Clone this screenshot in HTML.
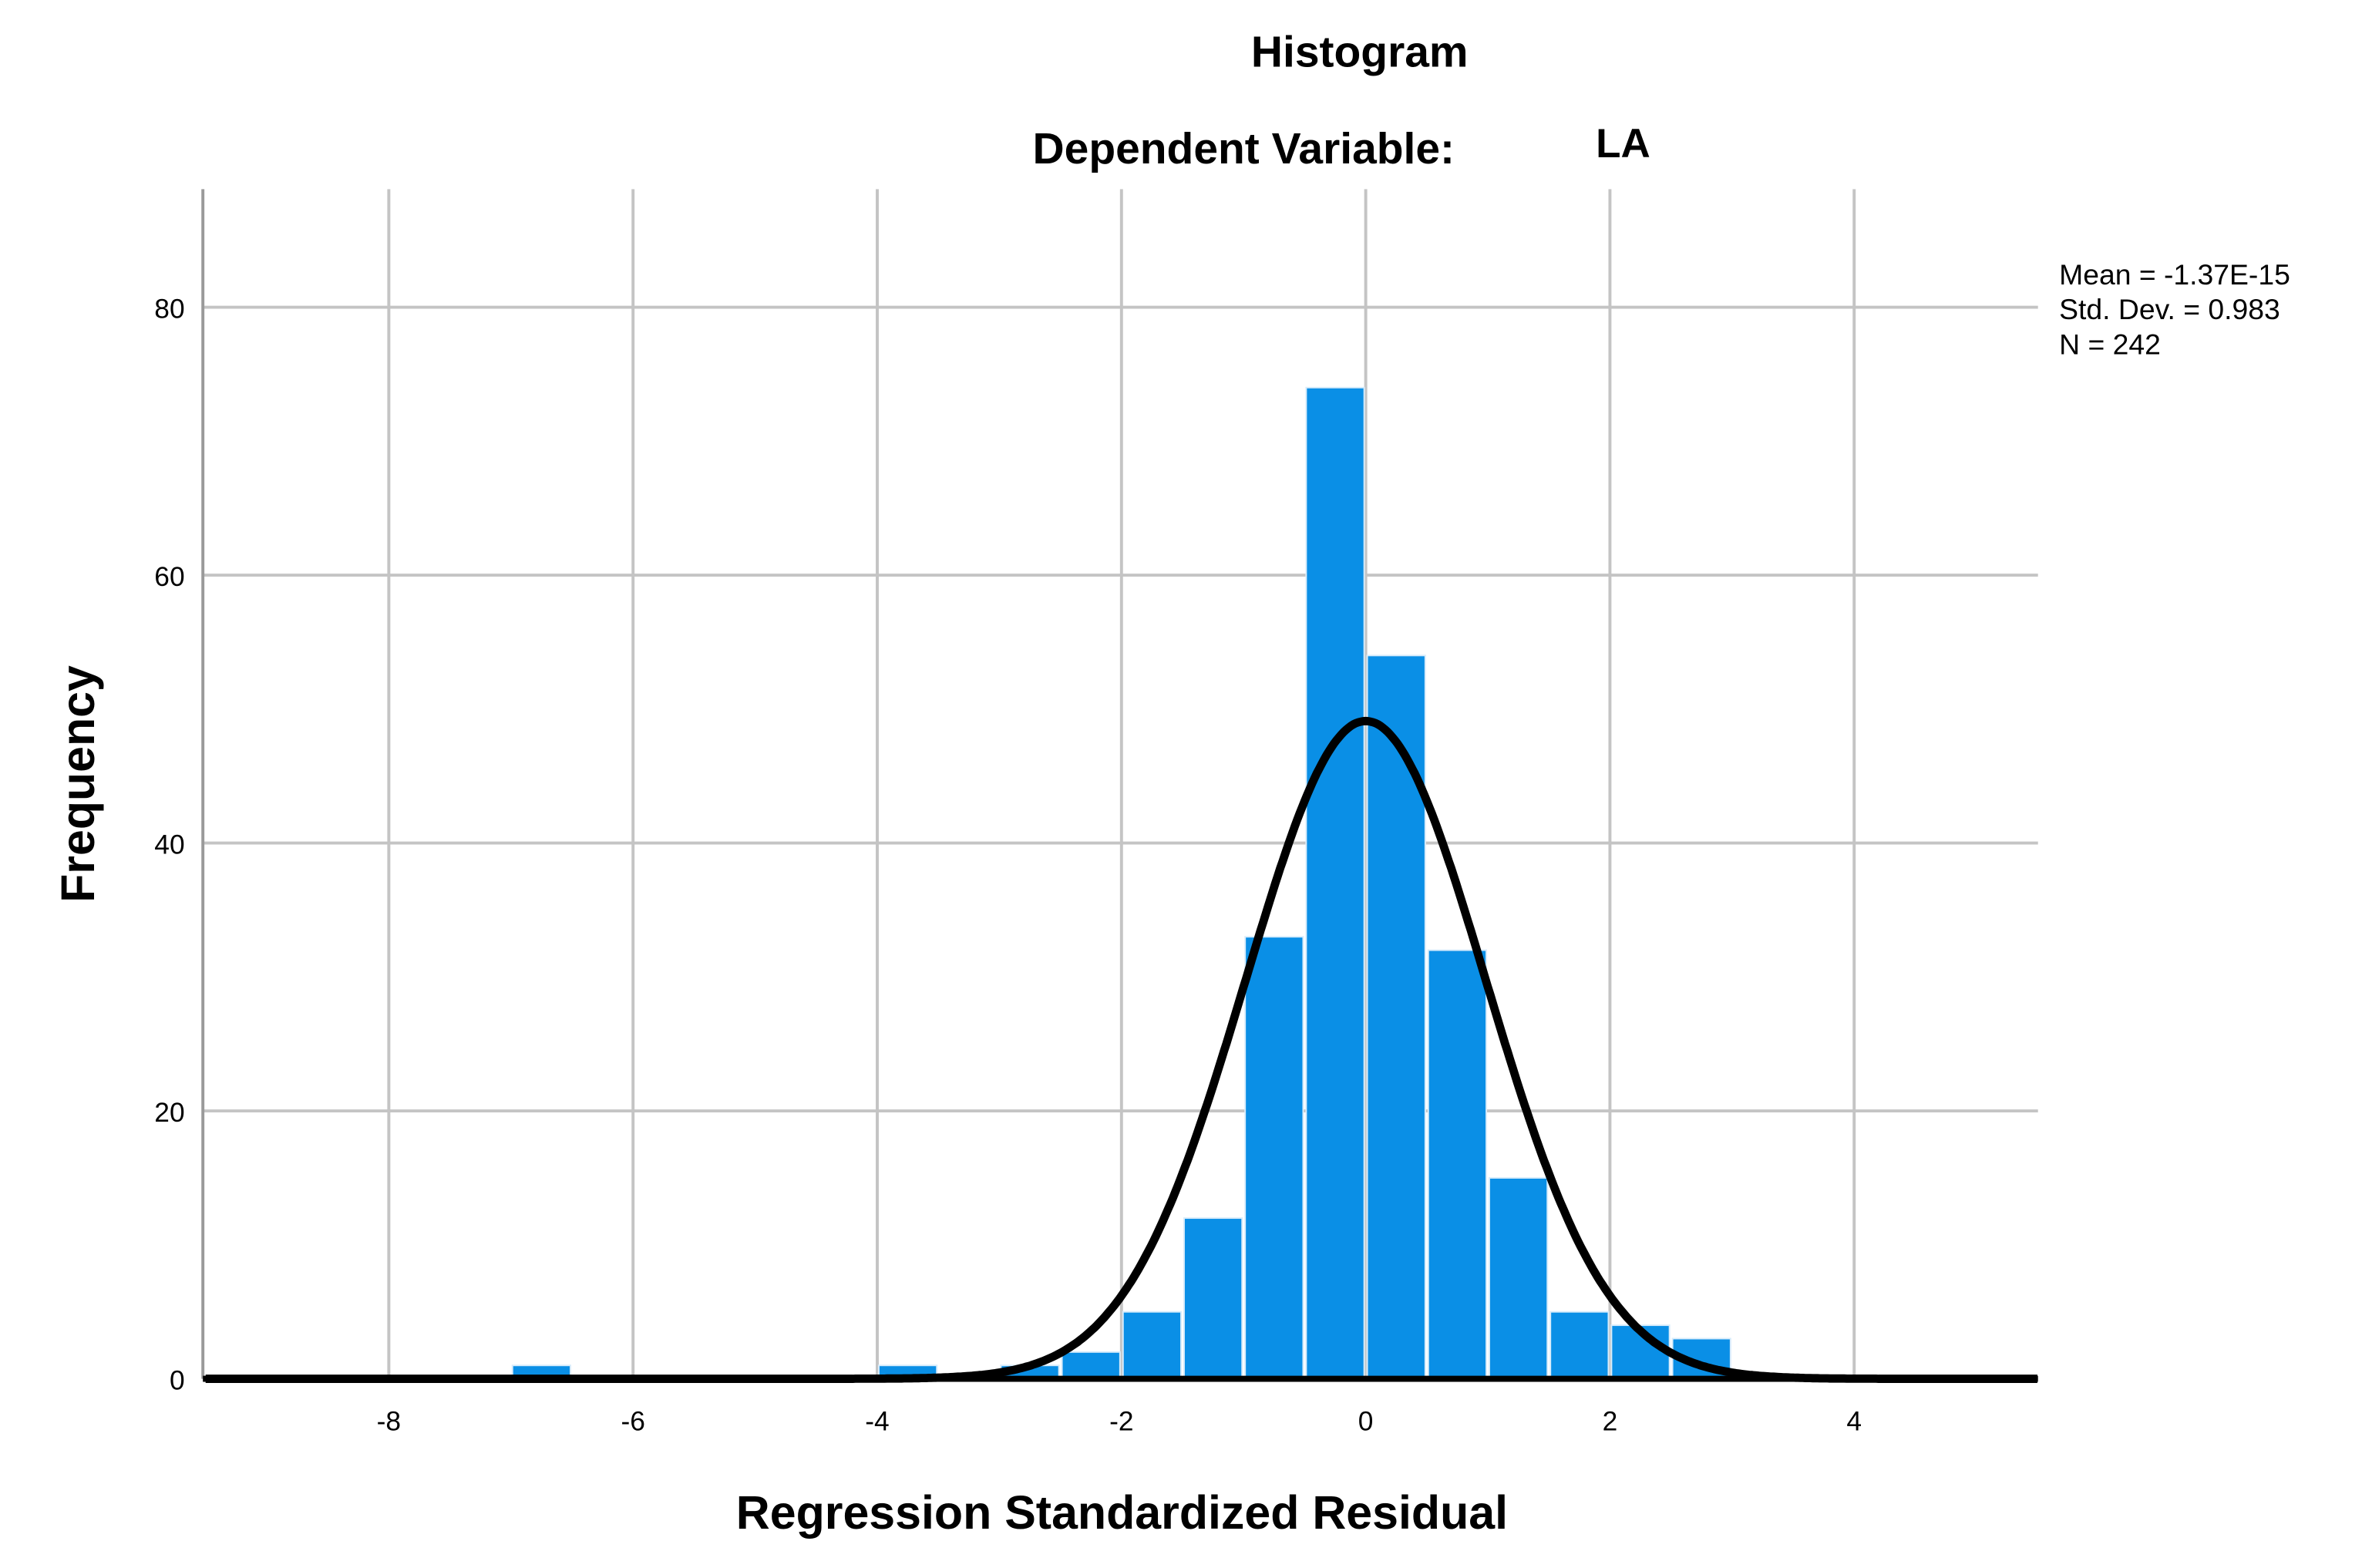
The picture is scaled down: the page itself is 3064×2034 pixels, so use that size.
<!DOCTYPE html>
<html><head><meta charset="utf-8"><style>
html,body{margin:0;padding:0;background:#fff;}
svg{display:block;font-family:"Liberation Sans",Arial,sans-serif;}
</style></head><body>
<svg id="chart" width="3064" height="2034" viewBox="0 0 1560 1036" preserveAspectRatio="none" xmlns="http://www.w3.org/2000/svg">
<text x="898" y="44" font-size="29" font-weight="bold" text-anchor="middle">Histogram</text>
<text x="682" y="108" font-size="29" font-weight="bold">Dependent Variable:</text>
<text x="1054" y="104" font-size="27" font-weight="bold">LA</text>
<g font-size="19">
<text x="1360" y="188">Mean = -1.37E-15</text>
<text x="1360" y="211">Std. Dev. = 0.983</text>
<text x="1360" y="234">N = 242</text>
</g>
<g id="grid"></g>
<g id="bars"></g>
<g id="axes"></g>
<path id="curve" fill="none" stroke="#000" stroke-width="5.5"/>
<text transform="translate(62,518) rotate(-90)" font-size="31" font-weight="bold" text-anchor="middle">Frequency</text>
<text x="741" y="1010" font-size="31" font-weight="bold" text-anchor="middle">Regression Standardized Residual</text>
</svg>
<script>
const binStarts=[-7,-4,-3,-2.5,-2,-1.5,-1,-0.5,0,0.5,1,1.5,2,2.5];
const counts=[1,1,1,2,5,12,33,74,54,32,15,5,4,3];
const xTicks=[-8,-6,-4,-2,0,2,4];
const yTicks=[0,20,40,60,80];
const binWidth=0.5, mean=-1.37e-15, sd=0.983, N=242;
const NS="http://www.w3.org/2000/svg";
const L=134,R=1346,T=125,B=911;
const xs=v=>902+v*80.65;
const ys=v=>911-v*8.85;
function mk(tag,attrs,parent){const e=document.createElementNS(NS,tag);for(const k in attrs)e.setAttribute(k,attrs[k]);document.getElementById(parent).appendChild(e);return e;}
xTicks.forEach(t=>{
 const l=mk('line',{x1:xs(t),x2:xs(t),y1:T,y2:B,stroke:'#c4c4c4','stroke-width':2},'grid');
 
 
 const tx=mk('text',{x:xs(t),y:945,'font-size':18,'text-anchor':'middle'},'axes');
 tx.textContent=t;
 
 
});
yTicks.forEach(t=>{
 const l=mk('line',{x1:L,x2:R,y1:ys(t),y2:ys(t),stroke:'#c4c4c4','stroke-width':2},'grid');
 
 
 const tx=mk('text',{x:122,y:ys(t)+7,'font-size':18,'text-anchor':'end'},'axes');
 tx.textContent=t;
 
 
});
binStarts.forEach((s,i)=>{
 const x0=xs(s),x1=xs(s+binWidth),y=ys(counts[i]);
 const r=mk('rect',{x:x0+1,y:y,width:x1-x0-2,height:B-y,fill:'#0a8fe6',stroke:'#d8ecfb','stroke-width':1},'bars');
 
 
});
const ax=mk('line',{x1:L,x2:L,y1:T,y2:B,stroke:'#9a9a9a','stroke-width':2},'axes');


const bx=mk('line',{x1:L,x2:R,y1:B,y2:B,stroke:'#000','stroke-width':4},'axes');


let d='';
for(let v=-9.5;v<=5.5;v+=0.02){
 const f=N*binWidth/(sd*Math.sqrt(2*Math.PI))*Math.exp(-0.5*((v-mean)/sd)**2);
 const px=Math.max(L,Math.min(R,xs(v)));
 d+=(d?'L':'M')+px.toFixed(1)+','+ys(f).toFixed(1);
}
document.getElementById('curve').setAttribute('d',d);
</script>
</body></html>
